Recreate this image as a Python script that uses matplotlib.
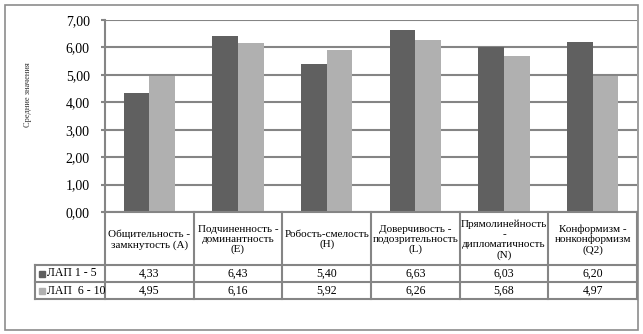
import numpy as np
import matplotlib.pyplot as plt
from matplotlib.patches import Rectangle

plt.rcParams['font.family'] = ['Liberation Serif', 'DejaVu Serif']

# Data
categories = ['Общительность -\nзамкнутость (A)',
              'Подчиненность -\nдоминантность\n(E)',
              'Робость-смелость\n(H)',
              'Доверчивость -\nподозрительность\n(L)',
              'Прямолинейность\n-\nдипломатичность\n(N)',
              'Конформизм -\nнонконформизм\n(Q2)']
series_names = ['ЛАП 1 - 5', 'ЛАП  6 - 10']
lap_1_5 = [4.33, 6.43, 5.40, 6.63, 6.03, 6.20]
lap_6_10 = [4.95, 6.16, 5.92, 6.26, 5.68, 4.97]
yticks = [0, 1, 2, 3, 4, 5, 6, 7]

colors = ['#606060', '#b0b0b0']
grid_c = '#858585'

W, H = 643, 334
fig = plt.figure(figsize=(W / 100, H / 100), dpi=100)

# outer frame
frame = fig.add_axes([0, 0, 1, 1])
frame.set_xlim(0, W)
frame.set_ylim(H, 0)
frame.axis('off')
frame.add_patch(Rectangle((5, 5), 633, 325, fill=False, ec='#8c8c8c', lw=1.2))

# y label (tiny, rotated)
fig.text(28 / W, 1 - 95 / H, 'Средние значения', rotation=90, fontsize=6,
         ha='center', va='center', color='#333333')

# bar plot area
left, right, top, bottom = 105, 637, 20, 212
ax = fig.add_axes([left / W, 1 - bottom / H, (right - left) / W, (bottom - top) / H])
x = np.arange(len(categories))
w = 0.29
ax.bar(x - w / 2, lap_1_5, w, color=colors[0], zorder=3)
ax.bar(x + w / 2, lap_6_10, w, color=colors[1], zorder=3)
ax.set_xlim(-0.5, len(categories) - 0.5)
ax.set_ylim(0, 7)
ax.set_yticks(yticks)
ax.set_yticklabels([f'{v:.2f}'.replace('.', ',') for v in yticks], fontsize=10)
ax.set_xticks([])
ax.yaxis.grid(True, color=grid_c, lw=1.5, zorder=0)
for s in ['top', 'right', 'bottom']:
    ax.spines[s].set_visible(False)
ax.spines['left'].set_color(grid_c)
ax.spines['left'].set_linewidth(1.5)
ax.tick_params(axis='y', length=3, color=grid_c, width=1.5, pad=8)

# data table below
tbot = 299
tab = fig.add_axes([left / W, 1 - tbot / H, (right - left) / W, (tbot - bottom) / H])
tab.set_xlim(-0.5, len(categories) - 0.5)
tab.set_ylim(tbot - bottom, 0)
tab.axis('off')
cw = (right - left) / len(categories)
xl = -0.5 - (left - 35) / cw
row_y = [53, 70, 87]
kw = dict(color=grid_c, lw=1.5, clip_on=False, solid_capstyle='projecting')
tab.plot([-0.5, len(categories) - 0.5], [0, 0], **kw)
for ry in row_y:
    tab.plot([xl, len(categories) - 0.5], [ry, ry], **kw)
tab.plot([xl, xl], [row_y[0], row_y[-1]], **kw)
for b in np.arange(len(categories) + 1) - 0.5:
    tab.plot([b, b], [0, row_y[-1]], **kw)

for i, c in enumerate(categories):
    tab.text(i, row_y[0] / 2 + 1, c, ha='center', va='center', fontsize=8,
             linespacing=1.15, clip_on=False)

for r, (name, vals) in enumerate(zip(series_names, [lap_1_5, lap_6_10])):
    yc = (row_y[r] + row_y[r + 1]) / 2
    tab.add_patch(Rectangle((xl + 0.04, yc - 3), 0.07, 6, color=colors[r], clip_on=False))
    tab.text(xl + 0.13, yc, name, ha='left', va='center', fontsize=8.5, clip_on=False)
    for i, v in enumerate(vals):
        tab.text(i, yc, f'{v:.2f}'.replace('.', ','), ha='center', va='center', fontsize=8.5)

fig.savefig('out.png', dpi=100)
